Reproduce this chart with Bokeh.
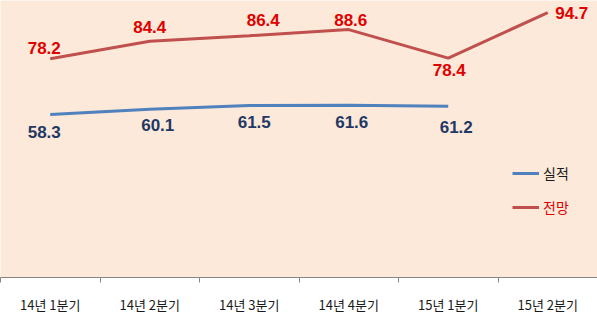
from bokeh.plotting import figure
from bokeh.models import (ColumnDataSource, Range1d, FixedTicker, Legend, LegendItem)
from bokeh.core.properties import value
from bokeh.embed import file_html
from bokeh.resources import INLINE

# ---- data ----
categories = ["14년 1분기", "14년 2분기", "14년 3분기", "14년 4분기", "15년 1분기", "15년 2분기"]
actual_name = "실적"
forecast_name = "전망"
actual = [58.3, 60.1, 61.5, 61.6, 61.2]
forecast = [78.2, 84.4, 86.4, 88.6, 78.4, 94.7]

# ---- label layout (screen-pixel offsets, positive = down) ----
actual_dx = [-6, 8, 5, 3, 8]
actual_dy = [18, 16, 17, 17, 21]
forecast_dx = [-6, 0, 14, 2, 1, 24]
forecast_dy = [-11, -14, -16, -10, 12, 0]

xpos = lambda n: [i + 0.5 for i in range(n)]

src_a = ColumnDataSource(dict(x=xpos(len(actual)), y=actual,
                              t=[f"{v:.1f}" for v in actual],
                              dx=actual_dx, dy=actual_dy))
src_f = ColumnDataSource(dict(x=xpos(len(forecast)), y=forecast,
                              t=[f"{v:.1f}" for v in forecast],
                              dx=forecast_dx, dy=forecast_dy))

p = figure(width=597, height=316, output_backend="svg", toolbar_location=None,
           x_range=Range1d(0, len(categories)), y_range=Range1d(0, 99),
           y_axis_location=None, min_border_left=0, min_border_right=0,
           min_border_top=0, min_border_bottom=36)
p.background_fill_color = "#FDE9D9"
p.border_fill_color = "white"
p.outline_line_color = None
p.xgrid.visible = False
p.ygrid.visible = False

r_a = p.line("x", "y", source=src_a, line_color="#4F81BD", line_width=3)
r_f = p.line("x", "y", source=src_f, line_color="#C0504D", line_width=3)

p.text("x", "y", text="t", source=src_a, x_offset="dx", y_offset="dy",
       text_font=value("Liberation Sans"), text_font_style="bold",
       text_font_size="17px", text_color="#1F3864",
       text_align="center", text_baseline="middle")
p.text("x", "y", text="t", source=src_f, x_offset="dx", y_offset="dy",
       text_font=value("Liberation Sans"), text_font_style="bold",
       text_font_size="17px", text_color="#E00000",
       text_align="center", text_baseline="middle")

ax = p.xaxis[0]
ax.ticker = FixedTicker(ticks=xpos(len(categories)),
                        minor_ticks=list(range(len(categories) + 1)))
ax.major_label_overrides = {x: c for x, c in zip(xpos(len(categories)), categories)}
ax.major_tick_out = 0
ax.major_tick_in = 0
ax.minor_tick_out = 5
ax.minor_tick_in = 0
ax.minor_tick_line_color = "#868686"
ax.axis_line_color = "#868686"
ax.major_label_text_font = "Noto Sans CJK KR"
ax.major_label_text_font_size = "13px"
ax.major_label_text_color = "#1a1a1a"
ax.major_label_standoff = 12

def mk_legend(renderer, label, color, loc):
    lg = Legend(items=[LegendItem(label=label, renderers=[renderer])],
                location=loc, background_fill_alpha=0, border_line_color=None,
                padding=0, margin=0, glyph_width=27, glyph_height=20,
                label_standoff=4, label_text_font="Noto Sans CJK KR",
                label_text_font_size="14px", label_text_color=color,
                label_height=20)
    p.add_layout(lg, "center")

mk_legend(r_a, actual_name, "#1a1a1a", (512, 94))
mk_legend(r_f, forecast_name, "#E00000", (512, 60))

open("out.html", "w").write(file_html(p, INLINE))
